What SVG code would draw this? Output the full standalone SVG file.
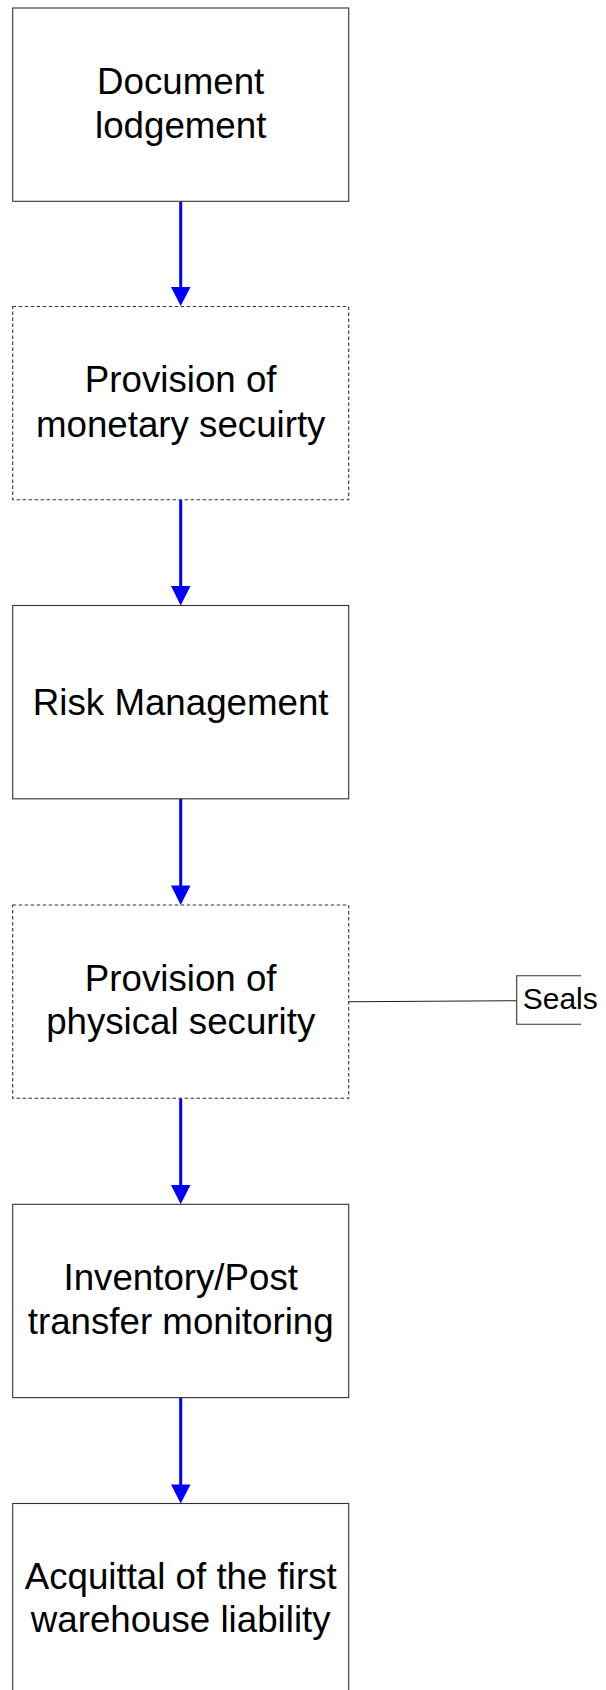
<svg xmlns="http://www.w3.org/2000/svg" width="606" height="1690" viewBox="0 0 606 1690">
<style>
.box{fill:#fff;stroke:#333;stroke-width:1.1}
.dash{fill:#fff;stroke:#333;stroke-width:1.1;stroke-dasharray:3.5,2.5}
.t{font-family:"Liberation Sans",Arial,sans-serif;font-size:36.7px;fill:#000;text-anchor:middle}
.ts{font-family:"Liberation Sans",Arial,sans-serif;font-size:30px;fill:#000}
.arr{stroke:#0000ff;stroke-width:3;fill:none}
.head{fill:#0000ff}
</style>
<rect width="606" height="1690" fill="#fff"/>
<g id="connectors">
<line class="arr" x1="180.7" y1="201.3" x2="180.7" y2="288"/>
<polygon class="head" points="171,287 190.5,287 180.7,306"/>
<line class="arr" x1="180.7" y1="499.8" x2="180.7" y2="587"/>
<polygon class="head" points="171,586 190.5,586 180.7,605.5"/>
<line class="arr" x1="180.7" y1="798.8" x2="180.7" y2="886"/>
<polygon class="head" points="171,885.5 190.5,885.5 180.7,905"/>
<line class="arr" x1="180.7" y1="1098.3" x2="180.7" y2="1186"/>
<polygon class="head" points="171,1185 190.5,1185 180.7,1204.3"/>
<line class="arr" x1="180.7" y1="1397.6" x2="180.7" y2="1485"/>
<polygon class="head" points="171,1484.5 190.5,1484.5 180.7,1503.5"/>
<line x1="348.7" y1="1001.7" x2="516.7" y2="1000.7" stroke="#222" stroke-width="1.1"/>
</g>
<g id="n1">
<rect class="box" x="12.7" y="8" width="336" height="193.3"/>
<text class="t" x="180.7" y="94">Document</text>
<text class="t" x="180.7" y="138.3">lodgement</text>
</g>
<g id="n2">
<rect class="dash" x="12.7" y="306.5" width="336" height="193.3"/>
<text class="t" x="180.7" y="391.7">Provision of</text>
<text class="t" x="180.7" y="436.7">monetary secuirty</text>
</g>
<g id="n3">
<rect class="box" x="12.7" y="605.5" width="336" height="193.3"/>
<text class="t" x="180.7" y="714.5">Risk Management</text>
</g>
<g id="n4">
<rect class="dash" x="12.7" y="905" width="336" height="193.3"/>
<text class="t" x="180.7" y="990.5">Provision of</text>
<text class="t" x="180.7" y="1034">physical security</text>
</g>
<g id="n5">
<rect class="box" x="12.7" y="1204.3" width="336" height="193.3"/>
<text class="t" x="180.7" y="1289.5">Inventory/Post</text>
<text class="t" x="180.7" y="1333.5">transfer monitoring</text>
</g>
<g id="n6">
<rect class="box" x="12.7" y="1503.5" width="336" height="193.3"/>
<text class="t" x="180.7" y="1588.5">Acquittal of the first</text>
<text class="t" x="180.7" y="1632">warehouse liability</text>
</g>
<g id="seals">
<path d="M581,975.7 H516.7 V1024.3 H581" fill="none" stroke="#333" stroke-width="1.1"/>
<text class="ts" x="522.7" y="1009">Seals</text>
</g>
</svg>
